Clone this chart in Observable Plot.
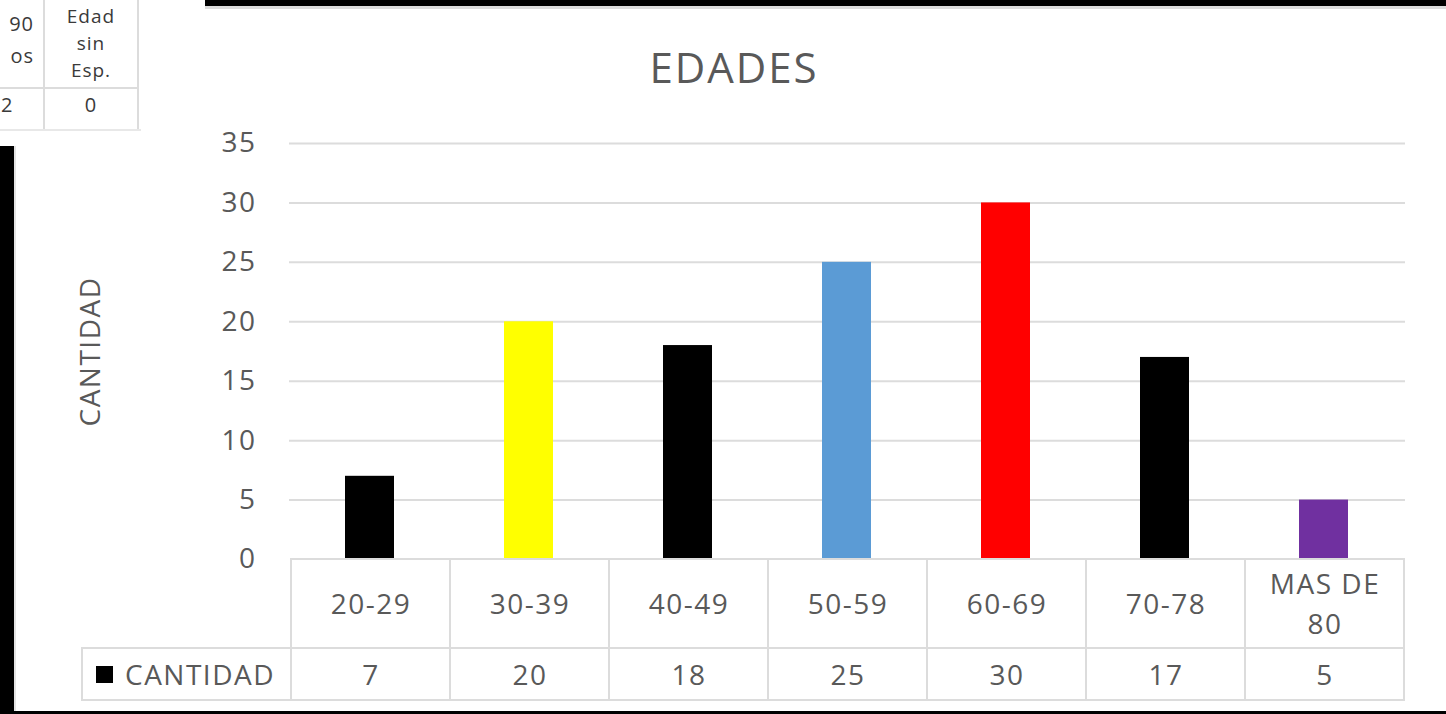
<!DOCTYPE html>
<html>
<head>
<meta charset="utf-8">
<script src="https://cdn.jsdelivr.net/npm/d3@7"></script>
<script src="https://cdn.jsdelivr.net/npm/@observablehq/plot@0.6"></script>
<style>
  body { margin: 0; background: #fff; }
  #root { position: relative; width: 1446px; height: 714px; overflow: hidden; background: #fff; font-family: "Open Sans", sans-serif; }
  .abs { position: absolute; }
  .frag { position: absolute; font-size: 20px; color: #3a3a3a; line-height: 22px; white-space: nowrap; letter-spacing: 1px; }
</style>
</head>
<body>
<div id="root">
  <!-- screenshot framing -->
  <div class="abs" style="left:205px;top:0;width:1241px;height:6px;background:#000"></div>
  <div class="abs" style="left:205px;top:6px;width:1241px;height:3px;background:#dcdcdc"></div>
  <div class="abs" style="left:0;top:146px;width:14px;height:568px;background:#000"></div>
  <div class="abs" style="left:14px;top:146px;width:2px;height:566px;background:#e4e4e4"></div>
  <div class="abs" style="left:0;top:711px;width:1446px;height:3px;background:#000"></div>
  <!-- cropped table fragment, top-left -->
  <div class="abs" style="left:43px;top:0;width:2px;height:130px;background:#dcdcdc"></div>
  <div class="abs" style="left:137px;top:0;width:2px;height:130px;background:#dcdcdc"></div>
  <div class="abs" style="left:0;top:87px;width:139px;height:2px;background:#dcdcdc"></div>
  <div class="abs" style="left:0;top:129px;width:141px;height:2px;background:#e8e8e8"></div>
  <div class="frag" style="left:0px;width:34px;text-align:right;top:8px;line-height:32px">90<br>os</div>
  <div class="frag" style="left:1px;top:94px">2</div>
  <div class="frag" style="left:45px;width:92px;text-align:center;top:3px;font-size:19px;line-height:27px">Edad<br>sin<br>Esp.</div>
  <div class="frag" style="left:45px;width:92px;text-align:center;top:94px">0</div>

  <div id="title" class="abs" style="left:433px;width:600px;top:46px;text-align:center;font-size:42px;line-height:42px;letter-spacing:2px;padding-left:2px;box-sizing:border-box;color:#595959">EDADES</div>
  <div id="chart" class="abs" style="left:0;top:0"></div>
  <div id="catrow" class="abs" style="left:0;top:557px"></div>
  <div id="valrow" class="abs" style="left:0;top:646px"></div>
  <div id="legend" class="abs" style="left:81px;top:647px;width:210px;height:54px;box-sizing:border-box;border:2px solid #dcdcdc;border-right:none;">
    <span class="abs" style="left:13px;top:17px;width:17px;height:17px;background:#000"></span>
    <span class="abs" style="left:42px;top:7px;font-size:28px;line-height:36px;letter-spacing:1.5px;color:#595959;white-space:nowrap">CANTIDAD</span>
  </div>
</div>
<script>
const categories = ["20-29", "30-39", "40-49", "50-59", "60-69", "70-78", "MAS DE 80"];
const categoryLabels = ["20-29", "30-39", "40-49", "50-59", "60-69", "70-78", "MAS DE\n80"];
const values = [7, 20, 18, 25, 30, 17, 5];
const barColors = ["#000000", "#FFFF00", "#000000", "#5B9BD5", "#FF0000", "#000000", "#7030A0"];
const yTicks = [0, 5, 10, 15, 20, 25, 30, 35];
const seriesName = "CANTIDAD";

const data = categories.map((c, i) => ({cat: c, label: categoryLabels[i], value: values[i], color: barColors[i]}));

const font = {fontFamily: "'Open Sans', sans-serif", background: "transparent", overflow: "visible", letterSpacing: "1.5px"};
const gridColor = "#dcdcdc";
const textColor = "#595959";

const chart = Plot.plot({
  width: 1446, height: 574,
  marginTop: 143, marginBottom: 15, marginLeft: 289, marginRight: 41,
  style: font,
  x: {type: "band", domain: categories, paddingInner: 0.69, paddingOuter: 0.345, axis: null},
  y: {domain: [0, 35]},
  color: {type: "identity"},
  marks: [
    Plot.gridY(yTicks.filter(t => t > 0), {stroke: gridColor, strokeOpacity: 1, strokeWidth: 2}),
    Plot.barY(data, {x: "cat", y: "value", fill: "color"}),
    Plot.axisY(yTicks, {tickSize: 0, tickPadding: 33, fontSize: 28, fill: textColor, label: null}),
    Plot.text([seriesName], {frameAnchor: "left", textAnchor: "middle", rotate: -90, dx: -198, fontSize: 28, fill: textColor})
  ]
});
document.getElementById("chart").append(chart);

const catRow = Plot.plot({
  width: 1446, height: 93,
  marginTop: 2, marginBottom: 2, marginLeft: 289, marginRight: 41,
  style: font,
  x: {type: "band", domain: categories, padding: 0, axis: null},
  marks: [
    Plot.cell(data, {x: "cat", fill: "white", stroke: gridColor, strokeWidth: 2, inset: 0}),
    Plot.text(data, {x: "cat", text: "label", fontSize: 28, lineHeight: 1.45, dy: -3, fill: textColor})
  ]
});
document.getElementById("catrow").append(catRow);

const valRow = Plot.plot({
  width: 1446, height: 56,
  marginTop: 2, marginBottom: 2, marginLeft: 289, marginRight: 41,
  style: font,
  x: {type: "band", domain: categories, padding: 0, axis: null},
  marks: [
    Plot.cell(data, {x: "cat", fill: "white", stroke: gridColor, strokeWidth: 2, inset: 0}),
    Plot.text(data, {x: "cat", text: d => String(d.value), fontSize: 28, dy: 2, fill: textColor})
  ]
});
document.getElementById("valrow").append(valRow);
</script>
</body>
</html>
